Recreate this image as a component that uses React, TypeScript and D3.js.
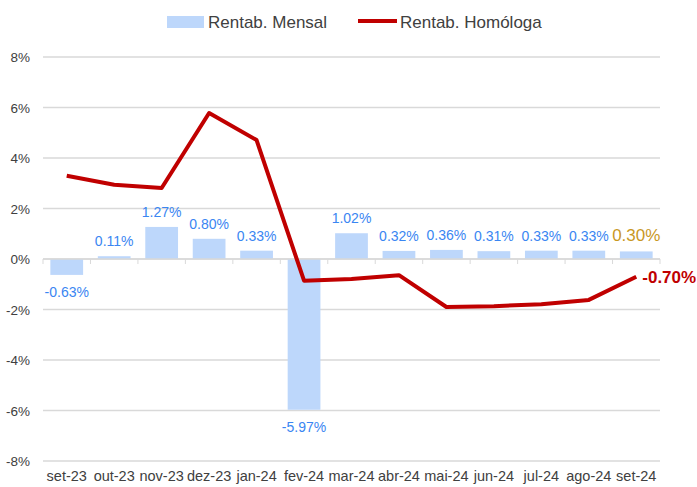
import React, { useRef, useEffect } from "react";
import * as d3 from "d3";

const months = [
  "set-23", "out-23", "nov-23", "dez-23", "jan-24", "fev-24", "mar-24",
  "abr-24", "mai-24", "jun-24", "jul-24", "ago-24", "set-24",
];
const mensal = [-0.63, 0.11, 1.27, 0.8, 0.33, -5.97, 1.02, 0.32, 0.36, 0.31, 0.33, 0.33, 0.3];
const homologa = [3.3, 2.94, 2.81, 5.78, 4.71, -0.86, -0.79, -0.64, -1.9, -1.87, -1.79, -1.62, -0.7];
const yTicks = [-8, -6, -4, -2, 0, 2, 4, 6, 8];

const W = 697;
const H = 487;
const margin = { top: 57, right: 37, bottom: 26, left: 43 };

const App = () => {
  const ref = useRef<SVGSVGElement>(null);

  useEffect(() => {
    if (!ref.current) return;
    const svg = d3.select(ref.current);
    svg.selectAll("*").remove();

    const width = W - margin.left - margin.right;
    const height = H - margin.top - margin.bottom;
    const font = "'Liberation Sans', Arial, sans-serif";

    const x = d3.scaleBand().domain(months).range([0, width]).paddingInner(0.31).paddingOuter(0.155);
    const y = d3.scaleLinear().domain([-8, 8]).range([height, 0]);

    const chart = svg.append("g").attr("transform", `translate(${margin.left},${margin.top})`);

    // gridlines
    chart
      .selectAll("line.grid")
      .data(yTicks)
      .enter()
      .append("line")
      .attr("x1", 0)
      .attr("x2", width)
      .attr("y1", (d) => y(d))
      .attr("y2", (d) => y(d))
      .attr("stroke", "#d9d9d9")
      .attr("stroke-width", 1.5);

    // y labels
    chart
      .selectAll("text.ylab")
      .data(yTicks)
      .enter()
      .append("text")
      .attr("x", -13)
      .attr("y", (d) => y(d) + 5)
      .attr("text-anchor", "end")
      .attr("font-family", font)
      .attr("font-size", 13.5)
      .attr("fill", "#404040")
      .text((d) => `${d}%`);

    // bars
    chart
      .selectAll("rect.bar")
      .data(mensal)
      .enter()
      .append("rect")
      .attr("x", (d, i) => x(months[i])!)
      .attr("width", x.bandwidth())
      .attr("y", (d) => y(Math.max(0, d)))
      .attr("height", (d) => Math.abs(y(d) - y(0)))
      .attr("fill", "#bdd7fb");

    // zero axis + ticks between categories
    chart
      .append("line")
      .attr("x1", 0)
      .attr("x2", width)
      .attr("y1", y(0))
      .attr("y2", y(0))
      .attr("stroke", "#d9d9d9")
      .attr("stroke-width", 1.5);
    const step = x.step();
    chart
      .selectAll("line.tick")
      .data(d3.range(months.length + 1))
      .enter()
      .append("line")
      .attr("x1", (d) => d * step)
      .attr("x2", (d) => d * step)
      .attr("y1", y(0))
      .attr("y2", y(0) + 5)
      .attr("stroke", "#d9d9d9")
      .attr("stroke-width", 1);

    // bar labels
    chart
      .selectAll("text.blab")
      .data(mensal)
      .enter()
      .append("text")
      .attr("x", (d, i) => x(months[i])! + x.bandwidth() / 2)
      .attr("y", (d) => (d >= 0 ? y(d) - 10 : y(d) + 22))
      .attr("text-anchor", "middle")
      .attr("font-family", font)
      .attr("font-size", (d, i) => (i === mensal.length - 1 ? 17 : 14))
      .attr("fill", (d, i) => (i === mensal.length - 1 ? "#c9981f" : "#3a86f2"))
      .text((d) => `${d.toFixed(2)}%`);

    // line
    const line = d3
      .line<number>()
      .x((d, i) => x(months[i])! + x.bandwidth() / 2)
      .y((d) => y(d));
    chart
      .append("path")
      .datum(homologa)
      .attr("d", line)
      .attr("fill", "none")
      .attr("stroke", "#c00000")
      .attr("stroke-width", 4)
      .attr("stroke-linejoin", "round");

    const last = homologa.length - 1;
    chart
      .append("text")
      .attr("x", x(months[last])! + x.bandwidth() / 2 + 6)
      .attr("y", y(homologa[last]) + 6)
      .attr("font-family", font)
      .attr("font-weight", "bold")
      .attr("font-size", 17)
      .attr("fill", "#c00000")
      .text(`${homologa[last].toFixed(2)}%`);

    // x labels
    chart
      .selectAll("text.xlab")
      .data(months)
      .enter()
      .append("text")
      .attr("x", (d) => x(d)! + x.bandwidth() / 2)
      .attr("y", height + 20)
      .attr("text-anchor", "middle")
      .attr("font-family", "'Liberation Sans Narrow', 'Arial Narrow', 'Liberation Sans', sans-serif")
      .attr("font-size", 14.5)
      .attr("fill", "#404040")
      .text((d) => d);

    // legend
    const legend = svg.append("g");
    legend.append("rect").attr("x", 167).attr("y", 16).attr("width", 37).attr("height", 12).attr("fill", "#bdd7fb");
    legend
      .append("text")
      .attr("x", 208)
      .attr("y", 28)
      .attr("font-family", font)
      .attr("font-size", 17)
      .attr("fill", "#404040")
      .text("Rentab. Mensal");
    legend
      .append("line")
      .attr("x1", 358)
      .attr("x2", 397)
      .attr("y1", 21)
      .attr("y2", 21)
      .attr("stroke", "#c00000")
      .attr("stroke-width", 4);
    legend
      .append("text")
      .attr("x", 400)
      .attr("y", 28)
      .attr("font-family", font)
      .attr("font-size", 17)
      .attr("fill", "#404040")
      .text("Rentab. Homóloga");
  }, []);

  return (
    <svg
      ref={ref}
      width={W}
      height={H}
      style={{ position: "absolute", left: 0, top: 0, background: "#fff" }}
    />
  );
};

export default App;
